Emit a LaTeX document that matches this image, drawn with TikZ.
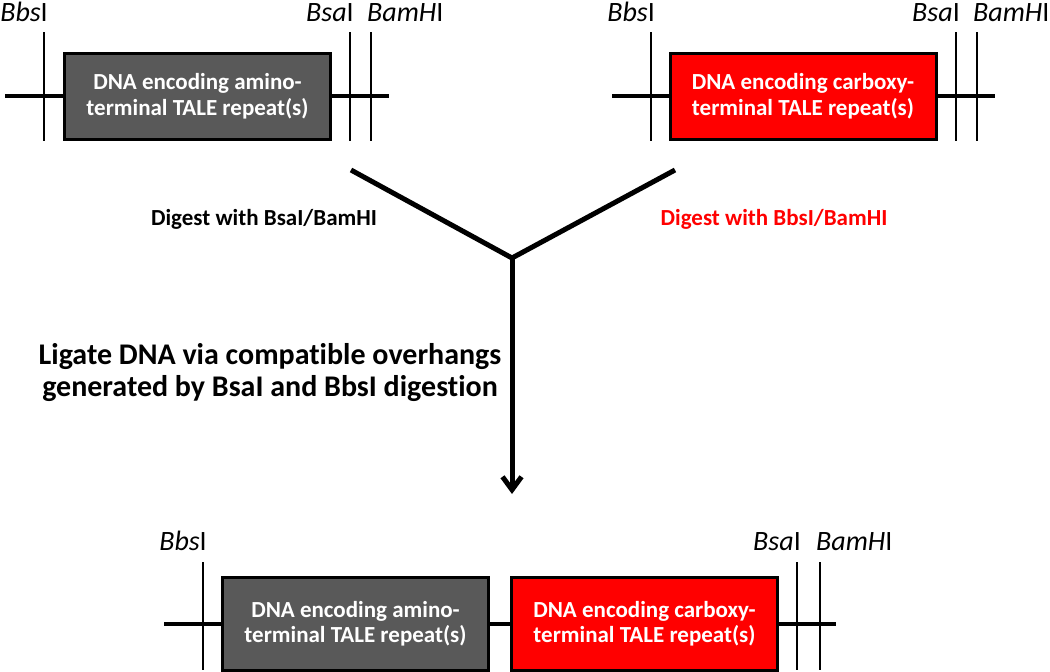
\documentclass[tikz,border=0pt]{standalone}
\usepackage{fontspec}
\setmainfont{Carlito}[Ligatures={NoCommon}]
\usetikzlibrary{arrows.meta}
\definecolor{amgrey}{RGB}{89,89,89}
\definecolor{cxred}{RGB}{255,0,0}

\begin{document}
\begin{tikzpicture}[x=1pt,y=-1pt,
        dna/.style={black, line width=4pt},
        site/.style={black, line width=1.2pt},
        seg/.style={draw=black, line width=3pt, minimum width=266pt, minimum height=86pt, inner sep=0pt,
                text=white, align=center, font=\fontsize{23}{25.5}\selectfont\bfseries},
        amino/.style={seg, fill=amgrey},
        carboxy/.style={seg, fill=cxred},
        enzyme/.style={inner sep=0pt, font=\fontsize{28}{30}\selectfont},
        digest/.style={inner sep=0pt, font=\fontsize{23}{25}\selectfont\bfseries},
        arm/.style={black, line width=5pt}]
        \useasboundingbox (0,0) rectangle (1050,672);
        % amino-terminal piece
        \coordinate (a0) at (5,96);
        \coordinate (a1) at (389,96);
        \node[amino] (am) at (197.5,96) {DNA encoding amino-\\terminal TALE repeat(s)};
        \draw[dna] (a0) -- (am.west);
        \draw[dna] (am.east) -- (a1);
        \draw[site] (44,32) coordinate (ab1) -- (44,141) coordinate (ab2);
        \draw[site] (350,32) coordinate (as1) -- (350,141) coordinate (as2);
        \draw[site] (371,32) coordinate (ah1) -- (371,141) coordinate (ah2);
        \node[enzyme, anchor=base east] (abbs) at (48,21) {\itshape Bbs\upshape I};
        \node[enzyme, anchor=base east] (absa) at (354,21) {\itshape Bsa\upshape I};
        \node[enzyme, anchor=base west] (abam) at (367,21) {\itshape BamH\upshape I};
        % carboxy-terminal piece
        \coordinate (c0) at (612,96);
        \coordinate (c1) at (995,96);
        \node[carboxy] (cx) at (803,96) {DNA encoding carboxy-\\terminal TALE repeat(s)};
        \draw[dna] (c0) -- (cx.west);
        \draw[dna] (cx.east) -- (c1);
        \draw[site] (651,32) coordinate (cb1) -- (651,141) coordinate (cb2);
        \draw[site] (956,32) coordinate (cs1) -- (956,141) coordinate (cs2);
        \draw[site] (977,32) coordinate (ch1) -- (977,141) coordinate (ch2);
        \node[enzyme, anchor=base east] (cbbs) at (655,21) {\itshape Bbs\upshape I};
        \node[enzyme, anchor=base east] (cbsa) at (960,21) {\itshape Bsa\upshape I};
        \node[enzyme, anchor=base west] (cbam) at (973,21) {\itshape BamH\upshape I};
        % digestion and ligation
        \coordinate (yl) at (351,170);
        \coordinate (yr) at (675,170);
        \coordinate (yj) at (512,258);
        \coordinate (ye) at (512,494);
        \draw[arm] (yl) -- (yj) -- (yr);
        \draw[arm, -{Straight Barb[length=13pt,width=19pt]}] (yj) -- (ye);
        \node[digest] (dleft) at (264,219) {Digest with BsaI/BamHI};
        \node[digest, text=cxred] (dright) at (774,219) {Digest with BbsI/BamHI};
        \node[inner sep=0pt, align=center, font=\fontsize{30}{32}\selectfont\bfseries] (lig) at (270,373)
                {Ligate DNA via compatible overhangs\\generated by BsaI and BbsI digestion};
        % ligated product
        \coordinate (p0) at (164,623.5);
        \coordinate (p1) at (836,623.5);
        \node[amino, minimum height=93pt] (pam) at (355.5,623.5) {DNA encoding amino-\\terminal TALE repeat(s)};
        \node[carboxy, minimum height=93pt] (pcx) at (644.5,623.5) {DNA encoding carboxy-\\terminal TALE repeat(s)};
        \draw[dna] (p0) -- (pam.west);
        \draw[dna] (pam.east) -- (pcx.west);
        \draw[dna] (pcx.east) -- (p1);
        \draw[site] (203,562) coordinate (pb1) -- (203,670) coordinate (pb2);
        \draw[site] (797,562) coordinate (ps1) -- (797,670) coordinate (ps2);
        \draw[site] (820,562) coordinate (ph1) -- (820,670) coordinate (ph2);
        \node[enzyme, anchor=base east] (pbbs) at (207,550) {\itshape Bbs\upshape I};
        \node[enzyme, anchor=base east] (pbsa) at (801,550) {\itshape Bsa\upshape I};
        \node[enzyme, anchor=base west] (pbam) at (816,550) {\itshape BamH\upshape I};
\end{tikzpicture}
\end{document}
